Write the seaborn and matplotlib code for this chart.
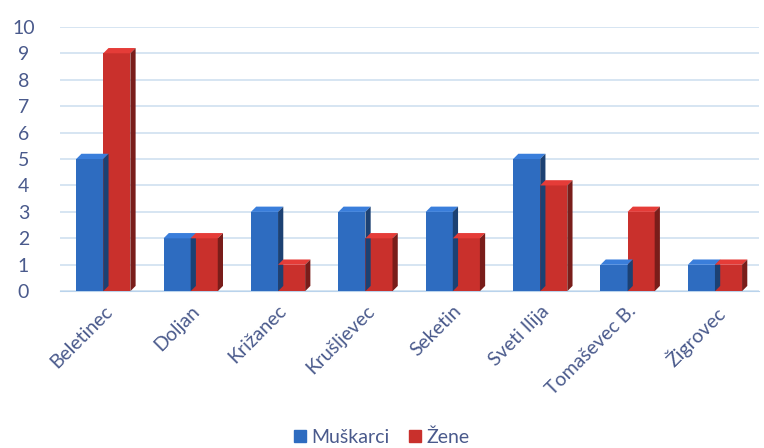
import matplotlib
matplotlib.use('Agg')
import matplotlib.pyplot as plt
from matplotlib.patches import Polygon
import matplotlib.colors as mcolors
import seaborn as sns
import pandas as pd

# data
sela = ['Beletinec', 'Doljan', 'Križanec', 'Krušljevec', 'Seketin',
        'Sveti Ilija', 'Tomaševec B.', 'Žigrovec']
muskarci = [5, 2, 3, 3, 3, 5, 1, 1]
zene = [9, 2, 1, 2, 2, 4, 3, 1]
serije = ['Muškarci', 'Žene']
boje = ['#2e6cc0', '#c9302c']

df = pd.DataFrame({'selo': sela * 2,
                   'spol': [serije[0]] * len(sela) + [serije[1]] * len(sela),
                   'broj': muskarci + zene})

sns.set_style('white')
plt.rcParams['font.family'] = ['Lato', 'DejaVu Sans']
fig = plt.figure(figsize=(7.64, 4.48), dpi=100)
ax = fig.add_axes([0.078, 0.35, 0.915, 0.59])

sns.barplot(data=df, x='selo', y='broj', hue='spol', palette=boje,
            width=0.62, saturation=1, ax=ax, legend=False)

# fake 3d caps / sides, derived from each bar
dx, dy = 0.06, 0.2
for p in list(ax.patches):
    x, y = p.get_x(), p.get_y()
    w, h = p.get_width(), p.get_height()
    c = mcolors.to_rgb(p.get_facecolor())
    top = [min(1, v * 1.1 + 0.03) for v in c]
    side = [v * 0.6 for v in c]
    ax.add_patch(Polygon([(x, y + h), (x + dx, y + h + dy), (x + w + dx, y + h + dy), (x + w, y + h)],
                         closed=True, facecolor=top, edgecolor='none', clip_on=False, zorder=3))
    ax.add_patch(Polygon([(x + w, y), (x + w + dx, y + dy), (x + w + dx, y + h + dy), (x + w, y + h)],
                         closed=True, facecolor=side, edgecolor='none', clip_on=False, zorder=3))
    p.set_zorder(3)
    p.set_edgecolor('none')

ax.set_ylim(0, 10)
ax.set_yticks(range(0, 11))
ax.set_xlim(-0.5, len(sela) - 0.5)
ax.yaxis.grid(True, color='#cfe0f0', linewidth=1.2)
ax.set_axisbelow(True)
for s in ['top', 'right', 'left']:
    ax.spines[s].set_visible(False)
ax.spines['bottom'].set_color('#b9d3ec')
ax.set_xlabel('')
ax.set_ylabel('')
ax.tick_params(axis='both', length=0, colors='#4a5a8c', labelsize=14)
ax.tick_params(axis='y', pad=26)
ax.tick_params(axis='x', pad=8)
plt.setp(ax.get_yticklabels(), ha='center')
plt.setp(ax.get_xticklabels(), rotation=45, ha='right', rotation_mode='anchor')

handles = [plt.Rectangle((0, 0), 1, 1, color=b) for b in boje]
fig.legend(handles, serije, loc='lower center', ncol=2, frameon=False,
           bbox_to_anchor=(0.5, -0.035), handlelength=0.6, handleheight=0.6,
           handletextpad=0.3, columnspacing=1.0, fontsize=14, labelcolor='#4a5a8c')

fig.savefig('out.png', dpi=100)
